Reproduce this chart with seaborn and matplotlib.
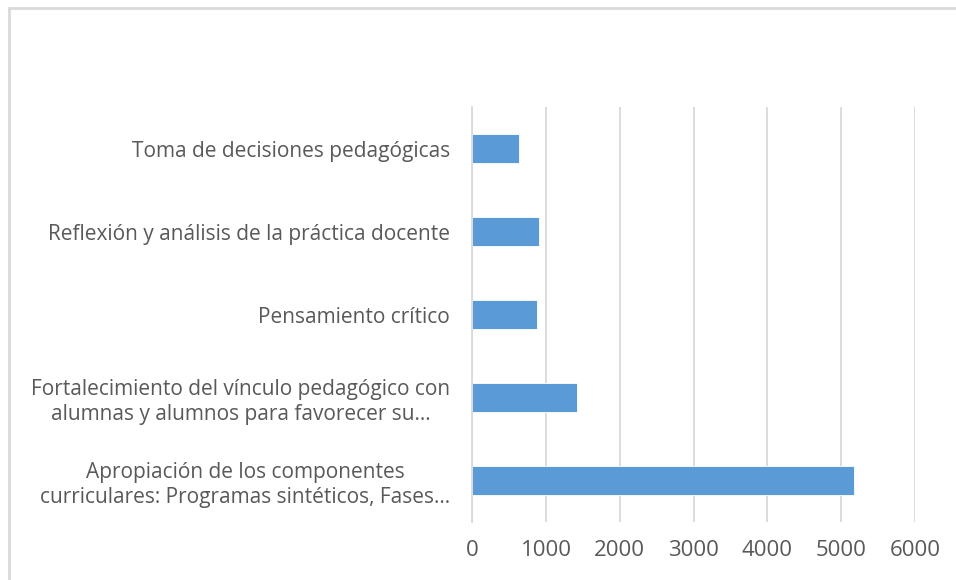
import matplotlib
matplotlib.use("Agg")
import matplotlib.pyplot as plt
import seaborn as sns
import pandas as pd
from matplotlib.lines import Line2D

# data (top to bottom as shown)
categories = [
    "Toma de decisiones pedagógicas",
    "Reflexión y análisis de la práctica docente",
    "Pensamiento crítico",
    "Fortalecimiento del vínculo pedagógico con\nalumnas y alumnos para favorecer su…",
    "Apropiación de los componentes\ncurriculares: Programas sintéticos, Fases…",
]
values = [630, 904, 881, 1415, 5181]
x_ticks = [0, 1000, 2000, 3000, 4000, 5000, 6000]

BAR = "#5B9BD5"
GRID = "#D9D9D9"
TEXT = "#595959"

sns.set_theme(style="white")
plt.rcParams["font.family"] = ["Open Sans", "DejaVu Sans"]

df = pd.DataFrame({"cat": categories, "val": values})

fig = plt.figure(figsize=(9.56, 5.8), dpi=100)
ax = fig.add_axes([0.494, 0.10, 0.463, 0.7155])

sns.barplot(data=df, x="val", y="cat", color=BAR, width=0.355,
            edgecolor="white", linewidth=0.6, saturation=1, ax=ax)

ax.set_xlim(0, 6000)
ax.set_ylim(4.5, -0.5)
ax.set_xticks(x_ticks)
ax.set_xticklabels([str(t) for t in x_ticks])
ax.set_xlabel("")
ax.set_ylabel("")

ax.grid(axis="x", color=GRID, linewidth=1.3)
ax.set_axisbelow(True)
for s in ["top", "right", "bottom"]:
    ax.spines[s].set_visible(False)
ax.spines["left"].set_color(GRID)
ax.spines["left"].set_linewidth(1.3)

ax.tick_params(axis="x", length=0, pad=13, labelsize=16, labelcolor=TEXT)
ax.tick_params(axis="y", length=0, pad=16, labelsize=15, labelcolor=TEXT)
for lbl in ax.get_yticklabels():
    lbl.set_multialignment("center")
    lbl.set_linespacing(1.25)

# chart frame (only top and left edges visible in the crop)
fig.add_artist(Line2D([0.009, 1.0], [0.987, 0.987], transform=fig.transFigure,
                      color=GRID, linewidth=2))
fig.add_artist(Line2D([0.009, 0.009], [0.0, 0.987], transform=fig.transFigure,
                      color=GRID, linewidth=2))

fig.savefig("out.png", dpi=100, facecolor="white")
